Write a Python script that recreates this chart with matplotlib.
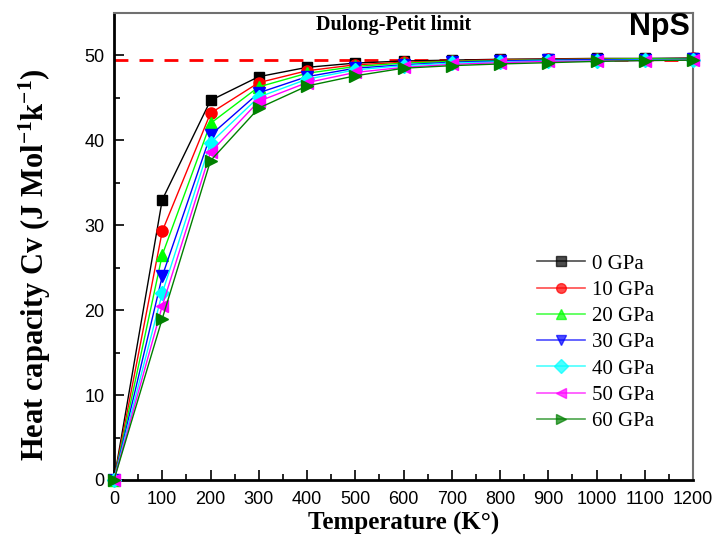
import matplotlib
matplotlib.use("Agg")
import matplotlib.pyplot as plt
from matplotlib.ticker import MultipleLocator
from matplotlib import font_manager

plt.rcParams["mathtext.fontset"] = "custom"
plt.rcParams["mathtext.rm"] = "Liberation Serif:bold"
plt.rcParams["mathtext.bf"] = "Liberation Serif:bold"
plt.rcParams["mathtext.it"] = "Liberation Serif:bold"

temps = [0, 100, 200, 300, 400, 500, 600, 700, 800, 900, 1000, 1100, 1200]
cv_0 = [0, 33.0, 44.7, 47.5, 48.6, 49.1, 49.35, 49.45, 49.55, 49.6, 49.65, 49.65, 49.7]
cv_10 = [0, 29.3, 43.2, 46.8, 48.2, 48.9, 49.2, 49.35, 49.5, 49.55, 49.6, 49.6, 49.65]
cv_20 = [0, 26.5, 42.0, 46.3, 47.9, 48.7, 49.1, 49.3, 49.4, 49.5, 49.55, 49.6, 49.6]
cv_30 = [0, 24.0, 40.6, 45.6, 47.5, 48.5, 48.9, 49.2, 49.35, 49.45, 49.5, 49.5, 49.55]
cv_40 = [0, 22.0, 39.7, 45.1, 47.2, 48.3, 48.8, 49.1, 49.25, 49.35, 49.4, 49.45, 49.5]
cv_50 = [0, 20.5, 38.6, 44.6, 46.8, 48.0, 48.6, 48.95, 49.15, 49.3, 49.35, 49.4, 49.45]
cv_60 = [0, 19.0, 37.6, 43.8, 46.4, 47.6, 48.5, 48.8, 49.0, 49.15, 49.3, 49.4, 49.45]
labels = ["0 GPa", "10 GPa", "20 GPa", "30 GPa", "40 GPa", "50 GPa", "60 GPa"]
series = [cv_0, cv_10, cv_20, cv_30, cv_40, cv_50, cv_60]
dulong_petit = 49.5

colors = ["black", "red", "#00ff00", "blue", "cyan", "magenta", "#008000"]
markers = ["s", "o", "^", "v", "D", "<", ">"]
msizes = [7, 8, 8, 8, 7, 8, 8]

tick_family = "Liberation Sans"
try:
    font_manager.findfont("Liberation Sans Narrow", fallback_to_default=False)
    tick_family = "Liberation Sans Narrow"
except Exception:
    pass

fig = plt.figure(figsize=(7.14, 5.37), dpi=100)
ax = fig.add_axes([114/714, 57/537, (693-114)/714, (480-13)/537])

for i, (y, lab) in enumerate(zip(series, labels)):
    ax.plot(temps, y, color=colors[i], marker=markers[i], markersize=msizes[i],
            linewidth=1.0, label=lab, clip_on=False, zorder=3 + i)

ax.axhline(dulong_petit, color="red", linestyle=(0, (5, 4)), linewidth=2, zorder=2)

ax.set_xlim(0, 1200)
ax.set_ylim(0, 55)
ax.xaxis.set_major_locator(MultipleLocator(100))
ax.xaxis.set_minor_locator(MultipleLocator(50))
ax.yaxis.set_major_locator(MultipleLocator(10))
ax.yaxis.set_minor_locator(MultipleLocator(5))
ax.tick_params(which="both", direction="in", top=False, right=False,
               labelsize=13, width=1.2)
ax.tick_params(axis="x", pad=8)
ax.tick_params(axis="y", pad=7)
ax.tick_params(which="major", length=7)
ax.tick_params(which="minor", length=4)
for lab in ax.get_xticklabels() + ax.get_yticklabels():
    lab.set_fontfamily(tick_family)

for side in ["left", "bottom"]:
    ax.spines[side].set_linewidth(2)
    ax.spines[side].set_color("black")
for side in ["right", "top"]:
    ax.spines[side].set_linewidth(1.5)
    ax.spines[side].set_color("#707070")

ax.set_xlabel("Temperature (K°)", fontfamily="Liberation Serif",
              fontweight="bold", fontsize=18)
ax.xaxis.set_label_coords(0.5, -(512 - 480) / 467)
ax.set_ylabel(r"Heat capacity Cv (J Mol$^{-1}$k$^{-1}$)",
              fontfamily="Liberation Serif", fontweight="bold", fontsize=22)
ax.yaxis.set_label_coords(-(114 - 53) / 579, (480 - 265) / 467)

ax.text((394 - 114) / 579, (480 - 25) / 467, "Dulong-Petit limit", transform=ax.transAxes,
        ha="center", va="center",
        fontfamily="Liberation Serif", fontweight="bold", fontsize=14.5)
ax.text((690 - 114) / 579, (480 - 27) / 467, "NpS", transform=ax.transAxes,
        ha="right", va="center",
        fontfamily="Liberation Sans", fontweight="bold", fontsize=22)

leg = ax.legend(loc="upper left", bbox_to_anchor=(0.698, 0.524), frameon=False,
                prop={"family": "Liberation Serif", "size": 15},
                handlelength=2.3, handletextpad=0.35, labelspacing=0.32, numpoints=1)
for h in leg.legend_handles:
    h.set_markersize(7)
    h.set_linewidth(1.2)
    h.set_alpha(0.7)

fig.savefig("out.png", dpi=100)
